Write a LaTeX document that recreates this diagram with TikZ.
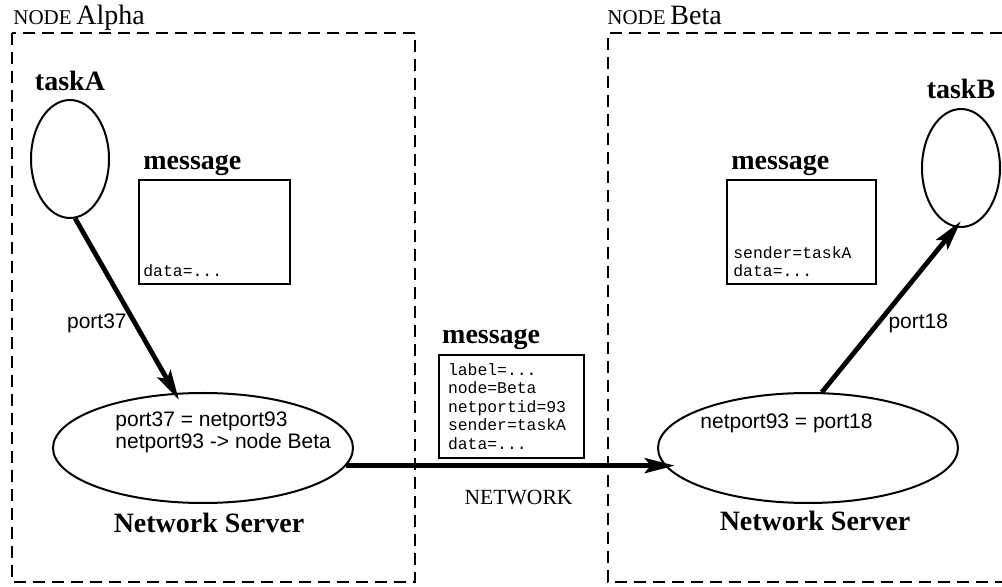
\documentclass[tikz,border=0pt]{standalone}
\usepackage{fontspec}
\setmainfont{Liberation Serif}
\setsansfont{Liberation Sans}
\setmonofont{Liberation Mono}
\usetikzlibrary{positioning,arrows.meta,shapes.geometric}

\tikzset{
  host/.style={line width=1.4pt, dash pattern=on 6pt off 3.5pt},
  task/.style={draw, ellipse, line width=1pt, minimum width=39pt, minimum height=59pt},
  server/.style={draw, ellipse, line width=1pt, minimum width=150pt, minimum height=55pt},
  msgbox/.style={draw, line width=1.2pt, inner sep=0pt},
  hdr/.style={font=\bfseries\fontsize{14}{16}\selectfont, inner sep=0pt},
  fld/.style={font=\ttfamily\fontsize{8.2}{9.2}\selectfont, align=left, inner sep=0pt},
  note/.style={font=\sffamily\fontsize{10.5}{9.5}\selectfont, align=left, inner sep=0pt},
  route/.style={-{Stealth[length=15pt,width=7.5pt,inset=3pt]}, line width=2.4pt, shorten >=-4pt},
}

\begin{document}
\begin{tikzpicture}[x=0.5pt,y=-0.5pt]
  \useasboundingbox (0,0) rectangle (1002,587);
  % hosts
  \draw[host] (12,33) rectangle (415,582);
  \draw[host] (1002,33) -- (608,33) -- (608,582) -- (1002,582);
  \node[anchor=base west, inner sep=0pt, font=\fontsize{14}{16}\selectfont] (hostA) at (13,25)
    {{\fontsize{10.5}{12}\selectfont NODE}\,Alpha};
  \node[anchor=base west, inner sep=0pt, font=\fontsize{14}{16}\selectfont] (hostB) at (607,25)
    {{\fontsize{10.5}{12}\selectfont NODE}\,Beta};

  % node Alpha
  \node[task] (taskA) at (70,159) {};
  \node[hdr, above=4pt of taskA] (taskAname) {taskA};
  \node[msgbox, minimum width=75.5pt, minimum height=52pt, anchor=north west] (msgA) at (138,179) {};
  \node[hdr, anchor=base west] (msgAname) at ([xshift=2.5pt,yshift=4.5pt]msgA.north west) {message};
  \node[fld, anchor=south west] (msgAdata) at ([xshift=2.5pt,yshift=4pt]msgA.south west) {data=...};
  \node[server] (srvA) at (203,448) {};
  \node[note, anchor=west] (srvAmap) at ([xshift=-44pt,yshift=7.75pt]srvA.center)
    {port37 = netport93\\netport93 -> node Beta};
  \node[hdr, anchor=base] (srvAname) at ([xshift=3pt,yshift=-14.5pt]srvA.south) {Network Server};
  \draw[route] (taskA.-85) -- (srvA.117) node[note, pos=0.6, left=3pt] {port37};

  % node Beta
  \node[task] (taskB) at (961,168) {};
  \node[hdr, above=4.5pt of taskB] (taskBname) {taskB};
  \node[msgbox, minimum width=74.5pt, minimum height=52pt, anchor=north west] (msgB) at (726,179) {};
  \node[hdr, anchor=base west] (msgBname) at ([xshift=2.5pt,yshift=4.5pt]msgB.north west) {message};
  \node[fld, anchor=south west] (msgBdata) at ([xshift=3.5pt,yshift=4pt]msgB.south west)
    {sender=taskA\\data=...};
  \node[server] (srvB) at (808,448) {};
  \node[note, anchor=west] (srvBmap) at ([xshift=-54pt,yshift=12.5pt]srvB.center) {netport93 = port18};
  \node[hdr, anchor=base] (srvBname) at ([xshift=3.5pt,yshift=-13.5pt]srvB.south) {Network Server};
  \draw[route] (srvB.76) -- (taskB.-95) node[note, pos=0.42, right=4pt] {port18};

  % message on the wire
  \node[msgbox, fld, inner xsep=4.5pt, text width=63.5pt, minimum height=51.5pt] (msgNet) at (511.5,406.5)
    {label=...\\node=Beta\\netportid=93\\sender=taskA\\data=...};
  \node[hdr, anchor=base west] (msgNetname) at ([xshift=2pt,yshift=5pt]msgNet.north west) {message};
  \draw[route] (srvA.-7.5) -- (srvA.-7.5 -| srvB.188)
    node[midway, below=11pt, xshift=6pt, inner sep=0pt, font=\fontsize{10.8}{12}\selectfont] {NETWORK};
\end{tikzpicture}
\end{document}
